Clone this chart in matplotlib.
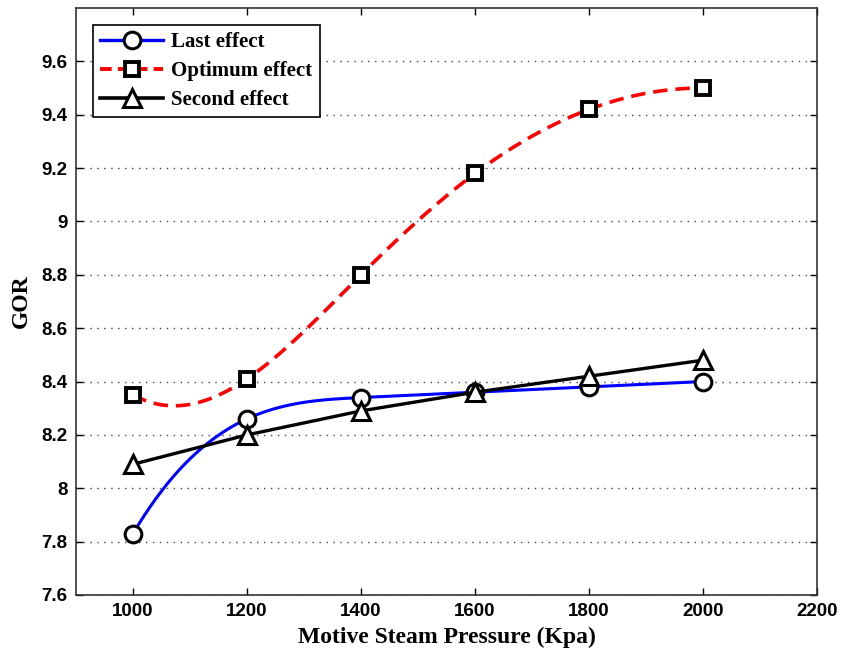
import matplotlib.pyplot as plt
import numpy as np

pressure = [1000, 1200, 1400, 1600, 1800, 2000]
last_effect = [7.83, 8.26, 8.34, 8.36, 8.38, 8.40]
optimum_effect = [8.35, 8.41, 8.80, 9.18, 9.42, 9.50]
second_effect = [8.09, 8.20, 8.29, 8.36, 8.42, 8.48]

y_ticks = [7.6, 7.8, 8.0, 8.2, 8.4, 8.6, 8.8, 9.0, 9.2, 9.4, 9.6]
y_tick_labels = ["7.6", "7.8", "8", "8.2", "8.4", "8.6", "8.8", "9", "9.2", "9.4", "9.6"]
x_ticks = [1000, 1200, 1400, 1600, 1800, 2000, 2200]


def spline(x, y, xs):
    # not-a-knot cubic spline, like MATLAB's spline()
    x = np.asarray(x, float)
    y = np.asarray(y, float)
    n = len(x)
    h = np.diff(x)
    A = np.zeros((n, n))
    b = np.zeros(n)
    A[0, 0], A[0, 1], A[0, 2] = h[1], -(h[0] + h[1]), h[0]
    A[-1, -3], A[-1, -2], A[-1, -1] = h[-1], -(h[-2] + h[-1]), h[-2]
    for i in range(1, n - 1):
        A[i, i - 1] = h[i - 1]
        A[i, i] = 2 * (h[i - 1] + h[i])
        A[i, i + 1] = h[i]
        b[i] = 6 * ((y[i + 1] - y[i]) / h[i] - (y[i] - y[i - 1]) / h[i - 1])
    m = np.linalg.solve(A, b)
    idx = np.clip(np.searchsorted(x, xs) - 1, 0, n - 2)
    t0 = xs - x[idx]
    t1 = x[idx + 1] - xs
    hi = h[idx]
    return (m[idx] * t1**3 / (6 * hi) + m[idx + 1] * t0**3 / (6 * hi)
            + (y[idx] / hi - m[idx] * hi / 6) * t1
            + (y[idx + 1] / hi - m[idx + 1] * hi / 6) * t0)


xs = np.linspace(pressure[0], pressure[-1], 300)

fig = plt.figure(figsize=(8.41, 6.51), dpi=100)
ax = fig.add_axes([76 / 841, 1 - 595 / 651, (817 - 76) / 841, (595 - 8) / 651])

serif = ["Liberation Serif", "DejaVu Serif"]
sans = ["Liberation Sans", "DejaVu Sans"]

circ = dict(marker="o", mfc="white", mec="black", mew=2.2, ms=12)
sq = dict(marker="s", mfc="white", mec="black", mew=2.8, ms=9.5)
tri = dict(marker="^", mfc="white", mec="black", mew=2.2, ms=13)

ax.plot(xs, spline(pressure, last_effect, xs), color="blue", lw=2.2)
ax.plot(pressure, last_effect, ls="none", **circ)
ax.plot(xs, spline(pressure, optimum_effect, xs), color="red", lw=2.6,
        dashes=(4, 2.2))
ax.plot(pressure, optimum_effect, ls="none", **sq)
ax.plot(pressure, second_effect, color="black", lw=2.4)
ax.plot(pressure, second_effect, ls="none", **tri)

# legend proxies
h1, = ax.plot([], [], color="blue", lw=2.4, **circ)
h2, = ax.plot([], [], color="red", lw=2.8, dashes=(3, 1.6), **sq)
h3, = ax.plot([], [], color="black", lw=2.6, **tri)
leg = ax.legend([h1, h2, h3], ["Last effect", "Optimum effect", "Second effect"],
                loc="upper left", bbox_to_anchor=(0.023, 0.971),
                prop={"family": serif, "weight": "bold", "size": 15},
                fancybox=False, framealpha=1, edgecolor="black",
                handlelength=3.0, handletextpad=0.4, borderpad=0.35,
                labelspacing=0.42, borderaxespad=0)
leg.get_frame().set_linewidth(1.2)

ax.set_xlim(900, 2200)
ax.set_ylim(7.6, 9.8)
ax.set_xticks(x_ticks)
ax.set_yticks(y_ticks)
ax.set_yticklabels(y_tick_labels)
ax.yaxis.grid(True, linestyle=(0, (1, 4)), color="#444444", lw=1)
ax.tick_params(direction="in", top=True, right=True, length=5, width=1,
               labelsize=13.5)
ax.tick_params(axis="x", pad=6)
ax.tick_params(axis="y", pad=6)
for lab in ax.get_xticklabels() + ax.get_yticklabels():
    lab.set_family(sans)
    lab.set_fontweight("bold")
for s in ax.spines.values():
    s.set_linewidth(1.2)
    s.set_color("#333333")

ax.set_xlabel("Motive Steam Pressure (Kpa)", family=serif, fontweight="bold",
              fontsize=17, labelpad=5)
ax.set_ylabel("GOR", family=serif, fontweight="bold", fontsize=17, labelpad=7)

fig.savefig("out.png", dpi=100)
